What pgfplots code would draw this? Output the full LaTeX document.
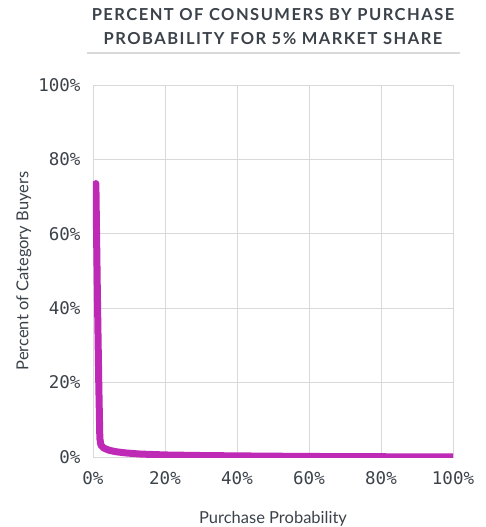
\documentclass[border=0pt]{standalone}
\usepackage{fontspec}
\setmainfont{Lato}
\newfontfamily\tickfont{DejaVu Sans Mono}
\newfontfamily\titlefont[LetterSpace=9]{Lato Bold}
\usepackage{pgfplots}
\pgfplotsset{compat=1.18}
\definecolor{curve}{RGB}{190,42,182}
\definecolor{txt}{RGB}{59,66,74}
\definecolor{gridc}{RGB}{217,217,217}

\begin{document}
\begin{tikzpicture}
\begin{axis}[
    scale only axis,
    width=360pt, height=372pt,
    xmin=0, xmax=100, ymin=0, ymax=100,
    xtick={0,20,...,100}, ytick={0,20,...,100},
    xticklabel={\pgfmathprintnumber{\tick}\%},
    yticklabel={\pgfmathprintnumber{\tick}\%},
    /pgf/number format/assume math mode=true,
    ticklabel style={font=\tickfont\fontsize{17.5}{19}\selectfont, text=txt},
    xticklabel style={yshift=-11pt},
    yticklabel style={xshift=-9pt},
    major tick length=0pt,
    axis line style={draw=gridc},
    grid=major,
    major grid style={draw=gridc, line width=0.8pt},
    xlabel={Purchase Probability},
    ylabel={Percent of Category Buyers},
    label style={font=\fontsize{16.5}{18}\selectfont, text=txt},
    xlabel style={yshift=-20pt},
    ylabel style={yshift=0pt},
]
\addplot[curve, line width=7pt, line cap=round, line join=round] coordinates {
 (0.8,73.5) (1.2,45) (1.6,20) (1.9,5) (2.2,3.2) (3,2.4) (4.5,1.8) (6.5,1.4)
 (9,1.1) (13,0.8) (20,0.55) (30,0.4) (40,0.3) (50,0.22) (60,0.15)
 (70,0.1) (80,0.07) (90,0.05) (100,0.04)
};
\end{axis}
\path (current axis.south west) ++(-93pt,-70pt) coordinate (bl);
\node[font=\titlefont\fontsize{16.5}{24}\selectfont, text=txt, align=center, anchor=north]
  at ([xshift=273pt, yshift=527pt-5pt]bl) {PERCENT OF CONSUMERS BY PURCHASE\\PROBABILITY FOR 5\% MARKET SHARE};
\draw[gridc, line width=2.5pt] ([xshift=87pt, yshift=527pt-53pt]bl) -- ++(373pt,0);
\pgfresetboundingbox
\path (bl) rectangle ++(485pt,527pt);
\end{tikzpicture}
\end{document}
